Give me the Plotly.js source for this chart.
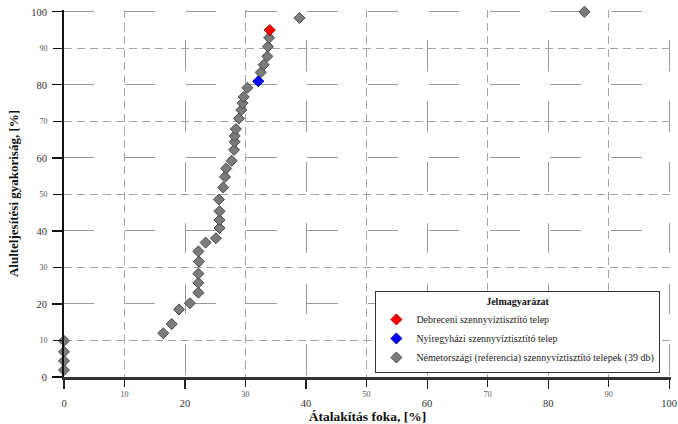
<!DOCTYPE html>
<html>
<head>
<meta charset="utf-8">
<script src="https://cdn.plot.ly/plotly-3.0.1.min.js"></script>
<style>html,body{margin:0;padding:0;background:#fff;}#chart{width:678px;height:424px;}</style>
</head>
<body>
<div id="chart"></div>
<script>
// German reference plants (39)
const germanX = [0, 0, 0, 0, 16.4, 17.8, 19.0, 20.8, 22.2, 22.2, 22.2, 22.3, 22.2, 23.4, 25.1, 25.7, 25.7, 25.7, 25.6, 26.3, 26.6, 26.8, 27.7, 28.1, 28.2, 28.2, 28.4, 28.9, 29.3, 29.5, 29.7, 30.3, 32.5, 33.0, 33.6, 33.7, 33.9, 38.9, 86.0];
const germanY = [1.9, 4.4, 6.9, 9.9, 12.0, 14.5, 18.5, 20.2, 23.1, 25.8, 28.3, 31.6, 34.4, 36.8, 38.0, 40.8, 43.0, 45.4, 48.6, 51.9, 54.8, 57.1, 59.2, 62.2, 64.4, 66.0, 67.9, 70.8, 73.1, 75.0, 76.7, 79.2, 83.4, 85.5, 87.8, 90.5, 92.9, 98.3, 100];
// Debrecen
const debrecenX = [34.0];
const debrecenY = [95.0];
// Nyíregyháza
const nyiregyhazaX = [32.1];
const nyiregyhazaY = [81.0];

const names = [
  "Debreceni szennyvíztisztító telep",
  "Nyíregyházi szennyvíztisztító telep",
  "Németországi (referencia) szennyvíztisztító telepek (39 db)"
];
const legendTitle = "Jelmagyarázat";
const xTitle = "Átalakítás foka, [%]";
const yTitle = "Alulteljesítési gyakoriság, [%]";

const FONT = "Liberation Serif, Times New Roman, serif";

const XR = [0, 100.3];
const YR = [0, 100.5];

const traces = [
  {x: germanX, y: germanY, type: 'scatter', mode: 'markers', name: names[2], legendrank: 3, cliponaxis: false,
   marker: {symbol: 'diamond', size: 8.5, color: '#7b7b7b', line: {color: '#4a4a4a', width: 1}}},
  {x: debrecenX, y: debrecenY, xaxis: 'x2', yaxis: 'y2', type: 'scatter', mode: 'markers', name: names[0], legendrank: 1, cliponaxis: false,
   marker: {symbol: 'diamond', size: 8.5, color: '#ff0000', line: {color: '#a00000', width: 1}}},
  {x: nyiregyhazaX, y: nyiregyhazaY, xaxis: 'x2', yaxis: 'y2', type: 'scatter', mode: 'markers', name: names[1], legendrank: 2, cliponaxis: false,
   marker: {symbol: 'diamond', size: 8.5, color: '#0000ff', line: {color: '#000090', width: 1}}}
];

const longDashH = "30.4px,30.4px";
const longDashV = "0px,30.4px,30.4px,0px";
const shortDash = "8px,5px";

const layout = {
  width: 678, height: 424,
  margin: {l: 64, r: 7, t: 10, b: 47, pad: 0},
  paper_bgcolor: '#ffffff', plot_bgcolor: '#ffffff',
  font: {family: FONT, color: '#222'},
  showlegend: true,
  legend: {
    x: 0.513, y: 0.011, xanchor: 'left', yanchor: 'bottom',
    bgcolor: '#ffffff', bordercolor: '#333', borderwidth: 1,
    font: {family: FONT, size: 10, color: '#222'},
    title: {text: legendTitle, side: 'top center', font: {family: FONT, size: 10, weight: 'bold', color: '#111'}}
  },
  xaxis: {
    range: XR, tick0: 0, dtick: 20, fixedrange: true,
    ticks: 'outside', ticklen: 9, tickwidth: 1.2, tickcolor: '#222',
    showline: true, linecolor: '#333', linewidth: 2.5,
    showgrid: true, gridcolor: '#9a9a9a', gridwidth: 1, griddash: longDashV,
    zeroline: false, ticklabeloverflow: 'allow',
    tickfont: {family: FONT, size: 10.5, color: '#333'},
    ticklabelstandoff: 6,
    title: {text: xTitle, standoff: 0, font: {family: FONT, size: 13.5, weight: 'bold', color: '#111'}}
  },
  xaxis2: {
    overlaying: 'x', anchor: 'y', side: 'bottom',
    range: XR, tick0: 10, dtick: 20, fixedrange: true,
    ticks: 'outside', ticklen: 9, tickwidth: 1.2, tickcolor: '#222',
    showline: false, zeroline: false,
    showgrid: true, gridcolor: '#a5a5a5', gridwidth: 1, griddash: shortDash,
    tickfont: {family: FONT, size: 8, color: '#555'},
    ticklabelstandoff: 0
  },
  yaxis: {
    range: YR, tick0: 0, dtick: 20, fixedrange: true,
    ticks: 'outside', ticklen: 10, tickwidth: 1.2, tickcolor: '#111',
    showline: true, linecolor: '#111', linewidth: 2,
    showgrid: true, gridcolor: '#9a9a9a', gridwidth: 1, griddash: longDashH,
    zeroline: false, ticklabeloverflow: 'allow',
    tickfont: {family: FONT, size: 10.5, color: '#333'},
    ticklabelstandoff: 3,
    title: {text: yTitle, standoff: 10, font: {family: FONT, size: 13, weight: 'bold', color: '#111'}}
  },
  yaxis2: {
    overlaying: 'y', anchor: 'x', side: 'left',
    range: YR, tick0: 10, dtick: 20, fixedrange: true,
    ticks: 'outside', ticklen: 10, tickwidth: 1.2, tickcolor: '#111',
    showline: false, zeroline: false,
    showgrid: true, gridcolor: '#a5a5a5', gridwidth: 1, griddash: shortDash,
    tickfont: {family: FONT, size: 8, color: '#555'},
    ticklabelstandoff: 4
  }
};

Plotly.newPlot('chart', traces, layout, {displayModeBar: false, staticPlot: true});
</script>
</body>
</html>
